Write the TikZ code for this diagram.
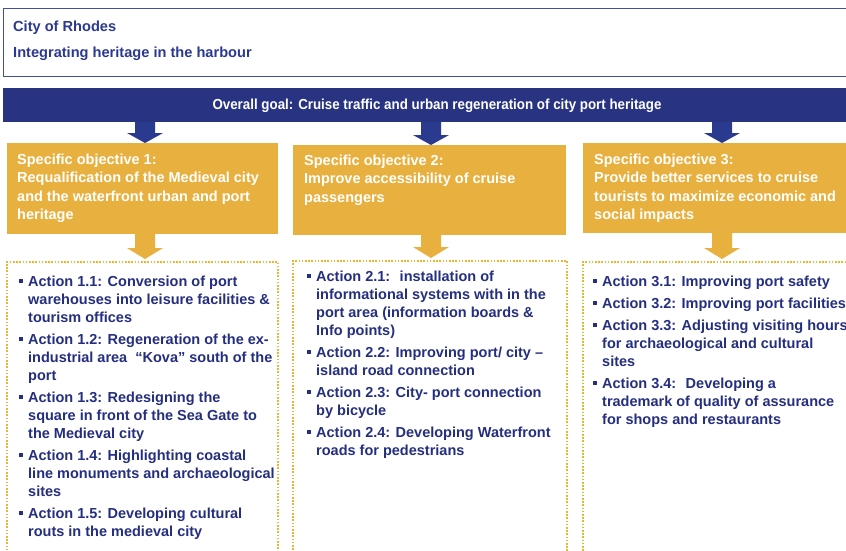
\documentclass[tikz,border=0pt]{standalone}
\usepackage{fontspec}
\setmainfont{Liberation Sans}
\newfontfamily\goalfont[FakeStretch=0.92]{Liberation Sans}
\usetikzlibrary{calc}
\definecolor{barblue}{HTML}{283482}
\definecolor{arrblue}{HTML}{2A3A8E}
\definecolor{titleblue}{HTML}{2B3990}
\definecolor{frameblue}{HTML}{4050A0}
\definecolor{gold}{HTML}{E8B03E}
\definecolor{dotgold}{HTML}{F0B434}
\definecolor{actblue}{HTML}{252F80}
\newcommand{\bul}{\makebox[9pt][l]{\raisebox{3pt}{\rule{3.6pt}{3.6pt}}}}
\newcommand{\ind}{\hspace*{9pt}}
\newcommand{\lines}[1]{\begin{tabular}[t]{@{}l@{}}#1\end{tabular}}
\begin{document}
\begin{tikzpicture}[x=1pt,y=-1pt,
  box/.style={anchor=north west, inner sep=0pt, outer sep=0pt},
  titletext/.style={anchor=base west, inner sep=0pt, text=titleblue, font=\bfseries\fontsize{14.6}{16}\selectfont},
  objtext/.style={anchor=base west, inner sep=0pt, text=white, font=\bfseries\fontsize{14.5}{18.6}\selectfont},
  acttext/.style={anchor=base west, inner sep=0pt, text=actblue, font=\bfseries\fontsize{14.5}{18}\selectfont},
  actbox/.style={box, draw=dotgold, line width=2pt, dash pattern=on 1.6pt off 1.6pt},
  objbox/.style={box, fill=gold},
]
\useasboundingbox (0,0) rectangle (846,551);
\clip (0,0) rectangle (846,551);
\fill[white] (0,0) rectangle (846,551);

% header
\node[box, draw=frameblue, line width=0.8pt, minimum width=880pt, minimum height=68pt] (head) at (3,8) {};
\node[titletext] (city) at (13,32) {City of Rhodes};
\node[titletext] (sub) at (13,58) {Integrating heritage in the harbour};

% overall goal
\node[box, fill=barblue, minimum width=868pt, minimum height=34pt] (goal) at (3,88) {};
\node[anchor=base, inner sep=0pt, text=white, font=\goalfont\bfseries\fontsize{14.5}{16}\selectfont] (goaltext) at (437,109) {Overall goal: Cruise traffic and urban regeneration of city port heritage};

% arrow columns
\coordinate (c1) at (145,0);
\coordinate (c2) at (431,0);
\coordinate (c3) at (722,0);

% objectives
\node[objbox, minimum width=271pt, minimum height=91pt] (obj1) at (7,143) {};
\node[objbox, minimum width=273pt, minimum height=90pt] (obj2) at (293,145) {};
\node[objbox, minimum width=290pt, minimum height=90pt] (obj3) at (583,143) {};

\node[objtext] (o1t) at (17,164) {\lines{Specific objective 1:\\Requalification of the Medieval city\\and the waterfront urban and port\\heritage}};
\node[objtext] (o2t) at (304,165) {\lines{Specific objective 2:\\Improve accessibility of cruise\\passengers}};
\node[objtext] (o3t) at (594,164) {\lines{Specific objective 3:\\Provide better services to cruise\\tourists to maximize economic and\\social impacts}};

% action boxes
\node[actbox, minimum width=271pt, minimum height=320pt] (act1) at (7,262) {};
\node[actbox, minimum width=274pt, minimum height=320pt] (act2) at (293,261) {};
\node[actbox, minimum width=290pt, minimum height=320pt] (act3) at (583,262) {};

\node[acttext] (a1t) at (19,286) {\lines{%
\bul Action 1.1: Conversion of port\\
\ind warehouses into leisure facilities \&\\
\ind tourism offices\\[4pt]
\bul Action 1.2: Regeneration of the ex-\\
\ind industrial area \ ``Kova'' south of the\\
\ind port\\[4pt]
\bul Action 1.3: Redesigning the\\
\ind square in front of the Sea Gate to\\
\ind the Medieval city\\[4pt]
\bul Action 1.4: Highlighting coastal\\
\ind line monuments and archaeological\\
\ind sites\\[4pt]
\bul Action 1.5: Developing cultural\\
\ind routs in the medieval city}};

\node[acttext] (a2t) at (307,281) {\lines{%
\bul Action 2.1: \ installation of\\
\ind informational systems with in the\\
\ind port area (information boards \&\\
\ind Info points)\\[4pt]
\bul Action 2.2: Improving port/ city --\\
\ind island road connection\\[4pt]
\bul Action 2.3: City- port connection\\
\ind by bicycle\\[4pt]
\bul Action 2.4: Developing Waterfront\\
\ind roads for pedestrians}};

\node[acttext] (a3t) at (593,286) {\lines{%
\bul Action 3.1: Improving port safety\\[4pt]
\bul Action 3.2: Improving port facilities\\[4pt]
\bul Action 3.3: Adjusting visiting hours\\
\ind for archaeological and cultural\\
\ind sites\\[4pt]
\bul Action 3.4: \ Developing a\\
\ind trademark of quality of assurance\\
\ind for shops and restaurants}};

% blue arrows goal -> objectives
\foreach \o/\c in {obj1/c1, obj2/c2, obj3/c3}{
  \fill[arrblue] let \p1=(goal.south -| \c), \p2=(\o.north -| \c) in
    (\x1-10pt,\y1) -- (\x1+10pt,\y1) -- (\x1+10pt,\y2+10pt) -- (\x1+18pt,\y2+10pt)
    -- (\x2,\y2) -- (\x1-18pt,\y2+10pt) -- (\x1-10pt,\y2+10pt) -- cycle;
}
% gold arrows objectives -> actions
\foreach \o/\a/\c in {obj1/act1/c1, obj2/act2/c2, obj3/act3/c3}{
  \fill[gold] let \p1=(\o.south -| \c), \p2=(\a.north -| \c) in
    (\x1-10pt,\y1) -- (\x1+10pt,\y1) -- (\x1+10pt,\y2+14pt) -- (\x1+18pt,\y2+14pt)
    -- (\x2,\y2+3pt) -- (\x1-18pt,\y2+14pt) -- (\x1-10pt,\y2+14pt) -- cycle;
}
\end{tikzpicture}
\end{document}
